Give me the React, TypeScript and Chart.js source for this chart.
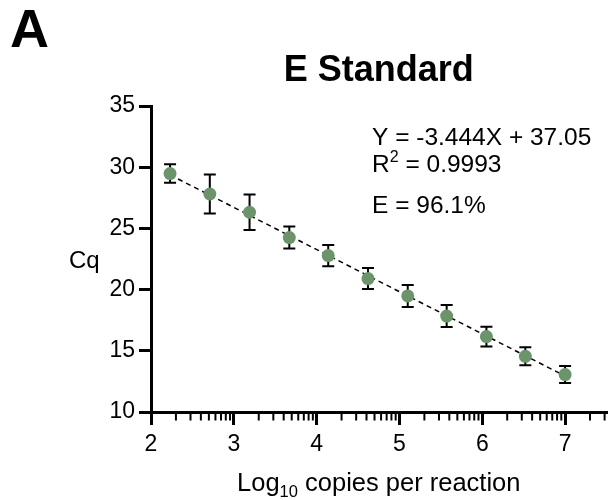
import { useEffect, useRef } from 'react';
import { Chart, registerables } from 'chart.js';

Chart.register(...registerables);

// ---- data ----
const LOG_COPIES = [2.23, 2.71, 3.19, 3.67, 4.14, 4.62, 5.1, 5.57, 6.05, 6.52, 7.0];
const CQ_MEAN = [29.48, 27.81, 26.32, 24.25, 22.78, 20.9, 19.48, 17.84, 16.16, 14.55, 13.06];
const CQ_SD = [0.76, 1.6, 1.45, 0.9, 0.87, 0.86, 0.9, 0.9, 0.8, 0.73, 0.7];
const X_TICKS = [2, 3, 4, 5, 6, 7];
const Y_TICKS = [10, 15, 20, 25, 30, 35];
const MINOR_MULTIPLIERS = [2, 3, 4, 5, 6, 7, 8, 9];
const FIT_SLOPE = -3.444;
const FIT_INTERCEPT = 37.05;

const PANEL_LABEL = 'A';
const TITLE = 'E Standard';
const EQ_TEXT = 'Y = -3.444X + 37.05';
const R2_VALUE = '0.9993';
const EFF_TEXT = 'E = 96.1%';
const Y_TITLE = 'Cq';
const X_TITLE_PRE = 'Log';
const X_TITLE_SUB = '10';
const X_TITLE_POST = ' copies per reaction';

const FONT = '"Liberation Sans", Arial, Helvetica, sans-serif';
const POINT_COLOR = '#6b946b';

const errorBarsPlugin = {
  id: 'errorBars',
  beforeDatasetsDraw(chart: any) {
    const { ctx, scales } = chart;
    const x = scales.x;
    const y = scales.y;
    ctx.save();
    ctx.strokeStyle = '#000';
    ctx.lineWidth = 2;
    LOG_COPIES.forEach((v, i) => {
      const px = x.getPixelForValue(v);
      const top = y.getPixelForValue(CQ_MEAN[i] + CQ_SD[i]);
      const bot = y.getPixelForValue(CQ_MEAN[i] - CQ_SD[i]);
      ctx.beginPath();
      ctx.moveTo(px, top);
      ctx.lineTo(px, bot);
      ctx.moveTo(px - 6, top);
      ctx.lineTo(px + 6, top);
      ctx.moveTo(px - 6, bot);
      ctx.lineTo(px + 6, bot);
      ctx.stroke();
    });
    ctx.restore();
  },
};

const minorTicksPlugin = {
  id: 'minorTicks',
  afterDraw(chart: any) {
    const { ctx, scales } = chart;
    const x = scales.x;
    ctx.save();
    ctx.strokeStyle = '#000';
    ctx.lineWidth = 2;
    const y0 = x.top;
    for (let d = Math.floor(x.min); d < x.max; d++) {
      MINOR_MULTIPLIERS.forEach((k) => {
        const v = d + Math.log10(k);
        if (v > x.max + 1e-9) return;
        const px = x.getPixelForValue(v);
        ctx.beginPath();
        ctx.moveTo(px, y0);
        ctx.lineTo(px, y0 + 8.5);
        ctx.stroke();
      });
    }
    ctx.restore();
  },
};

const textPlugin = {
  id: 'texts',
  afterDraw(chart: any) {
    const { ctx, chartArea } = chart;
    ctx.save();
    ctx.fillStyle = '#000';
    ctx.textBaseline = 'alphabetic';

    // panel label
    ctx.textAlign = 'left';
    ctx.font = `bold 54px ${FONT}`;
    ctx.fillText(PANEL_LABEL, 10, 47);

    // title
    const cx = (chartArea.left + chartArea.right) / 2;
    ctx.textAlign = 'center';
    ctx.font = `bold 36px ${FONT}`;
    ctx.fillText(TITLE, cx, 81);

    // annotations
    ctx.textAlign = 'left';
    const ax = 372;
    const big = `24.5px ${FONT}`;
    ctx.font = big;
    ctx.fillText(EQ_TEXT, ax, 145);
    let xx = ax;
    ctx.fillText('R', xx, 172);
    xx += ctx.measureText('R').width;
    ctx.font = `16px ${FONT}`;
    ctx.fillText('2', xx, 162);
    xx += ctx.measureText('2').width;
    ctx.font = big;
    ctx.fillText(' = ' + R2_VALUE, xx, 172);
    ctx.fillText(EFF_TEXT, ax, 213);

    // y title (horizontal)
    ctx.font = `24px ${FONT}`;
    ctx.fillText(Y_TITLE, 69, 268);

    // x title with subscript
    ctx.font = `25.5px ${FONT}`;
    const w1 = ctx.measureText(X_TITLE_PRE).width;
    const w3 = ctx.measureText(X_TITLE_POST).width;
    ctx.font = `16.5px ${FONT}`;
    const w2 = ctx.measureText(X_TITLE_SUB).width;
    let sx = cx - (w1 + w2 + w3) / 2;
    ctx.font = `25.5px ${FONT}`;
    ctx.fillText(X_TITLE_PRE, sx, 491);
    sx += w1;
    ctx.font = `16.5px ${FONT}`;
    ctx.fillText(X_TITLE_SUB, sx, 497);
    sx += w2;
    ctx.font = `25.5px ${FONT}`;
    ctx.fillText(X_TITLE_POST, sx, 491);

    ctx.restore();
  },
};

export default function App() {
  const canvasRef = useRef<HTMLCanvasElement | null>(null);

  useEffect(() => {
    document.body.style.margin = '0';
    const canvas = canvasRef.current;
    if (!canvas) return;
    const first = LOG_COPIES[0];
    const last = LOG_COPIES[LOG_COPIES.length - 1];
    const chart = new Chart(canvas, {
      type: 'scatter',
      data: {
        datasets: [
          {
            label: 'Cq',
            data: LOG_COPIES.map((x, i) => ({ x, y: CQ_MEAN[i] })),
            backgroundColor: POINT_COLOR,
            borderColor: POINT_COLOR,
            borderWidth: 0,
            pointRadius: 6.5,
            pointHoverRadius: 6.5,
            order: 0,
          },
          {
            type: 'line',
            label: 'fit',
            data: [first, last].map((x) => ({ x, y: FIT_SLOPE * x + FIT_INTERCEPT })),
            borderColor: '#000',
            borderWidth: 1.5,
            borderDash: [5, 4],
            pointRadius: 0,
            fill: false,
            showLine: true,
            order: 1,
          } as any,
        ],
      },
      options: {
        animation: false,
        responsive: false,
        events: [],
        layout: { padding: { top: 106, right: 1, left: 0, bottom: 0 } },
        plugins: {
          legend: { display: false },
          tooltip: { enabled: false },
          title: { display: false },
        },
        scales: {
          x: {
            type: 'linear',
            min: 2,
            max: 7.5,
            afterBuildTicks: (s: any) => {
              s.ticks = X_TICKS.map((v) => ({ value: v }));
            },
            afterFit: (s: any) => {
              s.height = 88;
            },
            grid: {
              display: true,
              drawOnChartArea: false,
              drawTicks: true,
              tickLength: 13,
              lineWidth: 3,
              color: '#000',
            },
            border: { display: true, color: '#000', width: 3 },
            ticks: {
              color: '#000',
              font: { family: FONT, size: 23 },
              padding: 6,
              maxRotation: 0,
              autoSkip: false,
            },
          },
          y: {
            type: 'linear',
            min: 10,
            max: 35,
            afterBuildTicks: (s: any) => {
              s.ticks = Y_TICKS.map((v) => ({ value: v }));
            },
            afterFit: (s: any) => {
              s.width = 151;
            },
            grid: {
              display: true,
              drawOnChartArea: false,
              drawTicks: true,
              tickLength: 12,
              lineWidth: 3,
              color: '#000',
            },
            border: { display: true, color: '#000', width: 3 },
            ticks: {
              color: '#000',
              font: { family: FONT, size: 23 },
              padding: 4,
              autoSkip: false,
            },
          },
        },
      },
      plugins: [errorBarsPlugin, minorTicksPlugin, textPlugin],
    });
    return () => chart.destroy();
  }, []);

  return (
    <div style={{ width: 613, height: 500 }}>
      <canvas ref={canvasRef} width={613} height={500} style={{ display: 'block' }} />
    </div>
  );
}
